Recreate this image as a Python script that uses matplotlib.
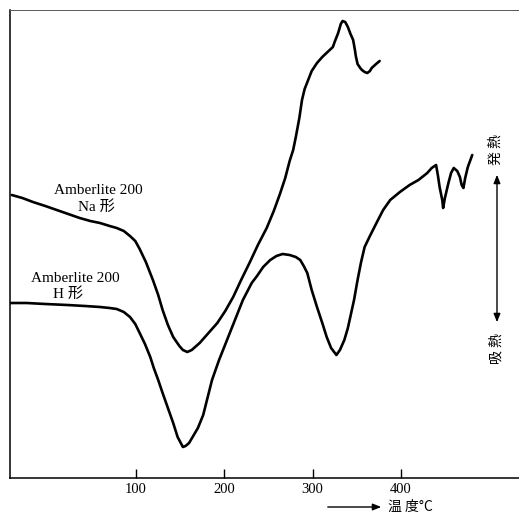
import matplotlib
matplotlib.use("Agg")
import matplotlib.pyplot as plt

# DTA curves of Amberlite 200 (temperature in deg C, signal in arbitrary units)
na_temp = [-41, -29, -17, -3, 10, 23, 36, 48, 59, 70,
           78, 86, 93, 99, 104, 111, 119, 125, 130, 136,
           142, 149, 153, 158, 163, 172, 181, 192, 201, 210,
           219, 229, 238, 248, 256, 263, 269, 274, 278, 281,
           285, 288, 291, 295, 299, 305, 311, 317, 323, 325,
           329, 332, 334, 337, 340, 343, 346, 348, 349, 351,
           354, 356, 359, 362, 365, 367, 372, 376]
na_signal = [283, 280, 276, 272, 268, 264, 260, 257, 255, 252,
             250, 247, 242, 237, 229, 216, 198, 183, 168, 153,
             141, 132, 128, 126, 128, 135, 144, 155, 167, 181,
             198, 216, 233, 250, 267, 284, 300, 317, 328, 341,
             360, 378, 389, 398, 407, 415, 421, 426, 431, 436,
             445, 454, 457, 456, 451, 444, 438, 428, 422, 414,
             410, 408, 406, 405, 407, 410, 414, 417]

h_temp = [-43, -24, -3, 22, 42, 59, 70, 78, 86, 93,
          99, 104, 110, 116, 120, 125, 130, 136, 142, 147,
          153, 156, 160, 164, 170, 176, 180, 186, 194, 203,
          212, 221, 231, 237, 244, 252, 259, 266, 274, 281,
          286, 290, 294, 299, 305, 311, 316, 321, 327, 331,
          336, 340, 342, 347, 351, 355, 359, 365, 373, 380,
          388, 399, 410, 420, 430, 435, 440, 442, 444, 447,
          448, 450, 454, 457, 460, 464, 467, 469, 471, 473,
          476, 481]
h_signal = [175, 175, 174, 173, 172, 171, 170, 169, 166, 161,
            154, 145, 134, 121, 110, 98, 85, 70, 55, 41,
            31, 32, 35, 41, 50, 63, 77, 98, 118, 138,
            158, 178, 195, 202, 211, 218, 222, 224, 223, 221,
            218, 212, 205, 188, 171, 155, 141, 130, 123, 128,
            138, 150, 158, 178, 198, 216, 231, 242, 256, 268,
            278, 286, 293, 298, 305, 310, 313, 303, 291, 278,
            270, 280, 295, 305, 310, 307, 301, 293, 290, 300,
            311, 323]

xticks = [100, 200, 300, 400]

W, H = 519, 514
fig = plt.figure(figsize=(W / 100, H / 100), dpi=100)
ax = fig.add_axes([10 / W, 1 - 478 / H, 1 - 10 / W, 468 / H])

serif = ["Liberation Serif", "Noto Sans CJK JP"]
cjk = ["Noto Sans CJK JP", "DejaVu Sans"]

for temp, sig in [(na_temp, na_signal), (h_temp, h_signal)]:
    ax.plot(temp, sig, color="black", lw=1.9, solid_joinstyle="round",
            solid_capstyle="round")

ax.set_xlim(-43, 534)
ax.set_ylim(0, 468)
ax.set_xticks(xticks)
ax.set_xticklabels([str(t) for t in xticks], family=serif, fontsize=10.5)
ax.set_yticks([])
ax.tick_params(axis="x", direction="in", length=6.5, width=1.0, pad=3.5)

ax.spines["right"].set_visible(False)
ax.spines["left"].set_linewidth(1.1)
ax.spines["bottom"].set_linewidth(1.1)
ax.spines["top"].set_linewidth(0.7)
ax.spines["top"].set_color("0.35")

# curve labels
ax.text(-43 + (98 - 10) / 0.882, 478 - 191, "Amberlite 200", family=serif,
        fontsize=11, ha="center", va="center")
ax.text(-43 + (96 - 10) / 0.882, 478 - 207, "Na 形", family=serif,
        fontsize=11, ha="center", va="center")
ax.text(-43 + (75 - 10) / 0.882, 478 - 278, "Amberlite 200", family=serif,
        fontsize=11, ha="center", va="center")
ax.text(-43 + (68 - 10) / 0.882, 478 - 294, "H 形", family=serif,
        fontsize=11, ha="center", va="center")

# x axis caption with arrow
fig.text(388 / W, 1 - 507 / H, "温 度°C", family=cjk, fontsize=10,
         ha="left", va="center")
fig.add_artist(matplotlib.patches.FancyArrowPatch(
    (325 / W, 1 - 507 / H), (384 / W, 1 - 507 / H), transform=fig.transFigure,
    arrowstyle="-|>,head_length=5,head_width=2", color="black", lw=1.0))

# exo / endo direction
fig.add_artist(matplotlib.patches.FancyArrowPatch(
    (497 / W, 1 - 325 / H), (497 / W, 1 - 172 / H), transform=fig.transFigure,
    arrowstyle="<|-|>,head_length=5,head_width=2", color="black", lw=1.0))
fig.text(496 / W, 1 - 150 / H, "発 熱", family=cjk, fontsize=10, rotation=90,
         ha="center", va="center")
fig.text(496 / W, 1 - 349 / H, "吸 熱", family=cjk, fontsize=10, rotation=90,
         ha="center", va="center")

fig.savefig("out.png", dpi=100)
